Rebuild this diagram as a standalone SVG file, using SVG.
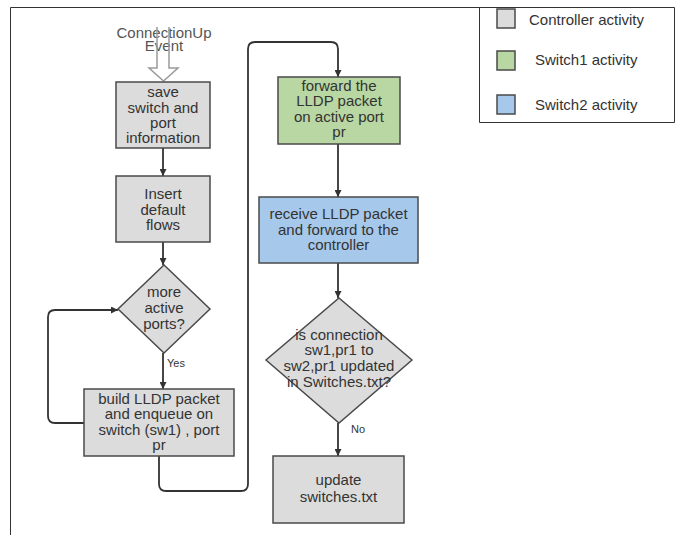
<svg xmlns="http://www.w3.org/2000/svg" width="680" height="535" viewBox="0 0 680 535">
  <style>
    text { font-family: "Liberation Sans", Arial, Helvetica, sans-serif; font-size: 15px; fill: #333; }
    .c { text-anchor: middle; }
    .small { font-size: 11px; }
    .box { stroke: #4a4a4a; stroke-width: 1.5; }
    .ctl { fill: #dcdcdc; }
    .sw1 { fill: #b9d7a2; }
    .sw2 { fill: #a6c8ea; }
    .frame { fill: none; stroke: #333; stroke-width: 1; }
    .wire { fill: none; stroke: #333; stroke-width: 1.8; }
  </style>
  <defs>
    <marker id="arrow" viewBox="0 0 10 10" refX="10" refY="5" markerWidth="8" markerHeight="7" markerUnits="userSpaceOnUse" orient="auto">
      <path d="M0,0 L10,5 L0,10 z" fill="#333"/>
    </marker>
  </defs>

  <!-- page frame and legend -->
  <g id="frame">
    <path class="frame" d="M10.5,535 V7.5 H674.5 V122.5 H479.5 V7.5"/>
  </g>
  <g id="legend">
    <rect class="box ctl" x="497" y="9" width="18" height="19"/>
    <text x="529" y="25">Controller activity</text>
    <rect class="box sw1" x="497" y="51" width="18" height="19"/>
    <text x="535" y="65">Switch1 activity</text>
    <rect class="box sw2" x="497" y="95" width="18" height="19"/>
    <text x="535" y="110">Switch2 activity</text>
  </g>

  <!-- start event -->
  <g id="start">
    <text class="c" x="164" y="38" style="fill:#555">ConnectionUp</text>
    <text class="c" x="164" y="51" style="fill:#555">Event</text>
    <path d="M157,27 V68 H149 L163.5,81 L178,68 H169 V27" fill="none" stroke="#9a9a9a" stroke-width="1.5"/>
  </g>

  <!-- connectors -->
  <g id="connectors">
    <path class="wire" d="M163,148 V176" marker-end="url(#arrow)"/>
    <path class="wire" d="M163,242 V265" marker-end="url(#arrow)"/>
    <path class="wire" d="M163,353 V389" marker-end="url(#arrow)"/>
    <text class="small" x="167" y="367">Yes</text>
    <path class="wire" d="M84,423 H55 Q48,423 48,416 V317 Q48,310 55,310 H118" marker-end="url(#arrow)"/>
    <path class="wire" d="M159,456 V484 Q159,491 166,491 H241 Q248,491 248,484 V49 Q248,42 255,42 H331 Q338,42 338,49 V77" marker-end="url(#arrow)"/>
    <path class="wire" d="M338,144 V197" marker-end="url(#arrow)"/>
    <path class="wire" d="M338,263 V298" marker-end="url(#arrow)"/>
    <path class="wire" d="M338,423 V456" marker-end="url(#arrow)"/>
    <text class="small" x="351" y="433">No</text>
  </g>

  <g id="save-info">
    <rect class="box ctl" x="116" y="82" width="94" height="66"/>
    <text class="c" x="163" y="97">save</text>
    <text class="c" x="163" y="113">switch and</text>
    <text class="c" x="163" y="128">port</text>
    <text class="c" x="163" y="143">information</text>
  </g>

  <g id="insert-flows">
    <rect class="box ctl" x="116" y="176" width="94" height="66"/>
    <text class="c" x="163" y="199">Insert</text>
    <text class="c" x="163" y="215">default</text>
    <text class="c" x="163" y="230">flows</text>
  </g>

  <g id="more-ports">
    <polygon class="box ctl" points="164,265 210,309 164,353 118,309"/>
    <text class="c" x="164" y="297">more</text>
    <text class="c" x="164" y="313">active</text>
    <text class="c" x="164" y="329">ports?</text>
  </g>

  <g id="build-lldp">
    <rect class="box ctl" x="84" y="389" width="150" height="67"/>
    <text class="c" x="159" y="404">build LLDP packet</text>
    <text class="c" x="159" y="419">and enqueue on</text>
    <text class="c" x="159" y="435">switch (sw1) , port</text>
    <text class="c" x="159" y="450">pr</text>
  </g>

  <g id="forward-lldp">
    <rect class="box sw1" x="278" y="77" width="122" height="67"/>
    <text class="c" x="339" y="91">forward the</text>
    <text class="c" x="339" y="106">LLDP packet</text>
    <text class="c" x="339" y="122">on active port</text>
    <text class="c" x="339" y="137">pr</text>
  </g>

  <g id="receive-lldp">
    <rect class="box sw2" x="259" y="197" width="159" height="66"/>
    <text class="c" x="338.5" y="219">receive LLDP packet</text>
    <text class="c" x="338.5" y="235">and forward to the</text>
    <text class="c" x="338.5" y="250">controller</text>
  </g>

  <g id="is-updated">
    <polygon class="box ctl" points="339,298 412,360 339,423 266,360"/>
    <text class="c" x="339" y="340">is connection</text>
    <text class="c" x="339" y="355">sw1,pr1 to</text>
    <text class="c" x="339" y="371">sw2,pr1 updated</text>
    <text class="c" x="339" y="387">in Switches.txt?</text>
  </g>

  <g id="update-file">
    <rect class="box ctl" x="273" y="456" width="131" height="67"/>
    <text class="c" x="338.5" y="485">update</text>
    <text class="c" x="338.5" y="502">switches.txt</text>
  </g>
</svg>
